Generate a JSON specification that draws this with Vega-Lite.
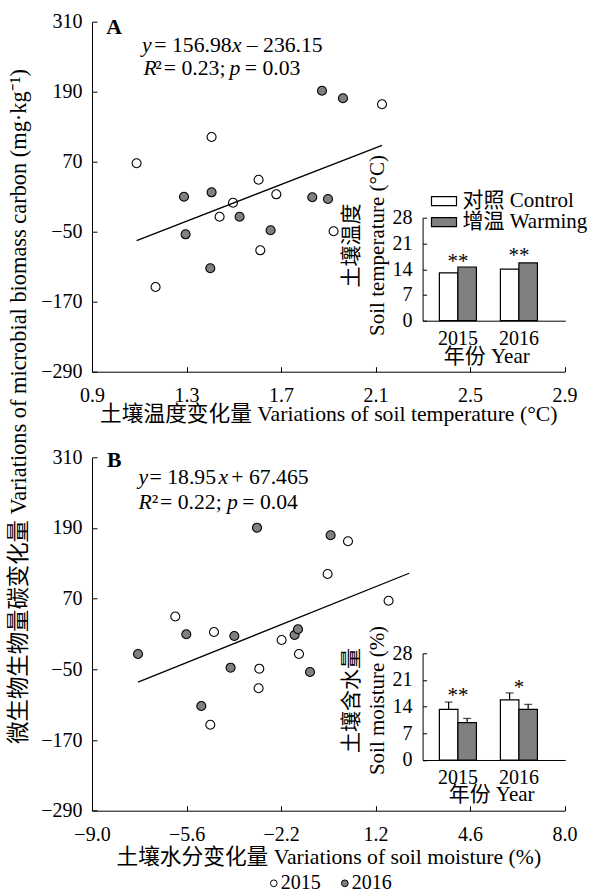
{
  "$schema": "https://vega.github.io/schema/vega-lite/v6.json",
  "padding": {"left": 7, "top": 11.7, "right": 5, "bottom": 5},
  "bounds": "flush",
  "spacing": 85.6,
  "config": {
    "font": "Liberation Serif, Noto Sans CJK SC",
    "view": {"stroke": null},
    "axis": {"grid": false, "domainColor": "black", "domainWidth": 1, "tickColor": "black", "tickWidth": 1, "labelColor": "black", "titleColor": "black", "labelFont": "Liberation Serif, Noto Sans CJK SC", "titleFont": "Liberation Serif, Noto Sans CJK SC", "labelFontSize": 20, "titleFontSize": 21, "titleFontWeight": "normal", "labelFlush": false, "labelOverlap": false},
    "legend": {"labelFont": "Liberation Serif, Noto Sans CJK SC", "labelFontSize": 21, "labelColor": "black", "symbolOpacity": 1},
    "text": {"font": "Liberation Serif, Noto Sans CJK SC", "color": "black"}
  },
  "resolve": {"scale": {"fill": "independent"}, "legend": {"fill": "independent"}},
  "datasets": {
    "scatterA": [
      {"x": 1.0887, "y": 67.3, "year": "2015"}, {"x": 1.4061, "y": 112.3, "year": "2015"}, {"x": 2.1273, "y": 168.4, "year": "2015"}, {"x": 1.605, "y": 39.1, "year": "2015"}, {"x": 1.68, "y": 14.1, "year": "2015"}, {"x": 1.4967, "y": -0.3, "year": "2015"}, {"x": 1.44, "y": -24.3, "year": "2015"}, {"x": 1.6122, "y": -81.9, "year": "2015"}, {"x": 1.169, "y": -144.8, "year": "2015"}, {"x": 1.9224, "y": -49.3, "year": "2015"},
      {"x": 1.8733, "y": 191.7, "year": "2016"}, {"x": 1.9622, "y": 178.7, "year": "2016"}, {"x": 1.2893, "y": 10, "year": "2016"}, {"x": 1.4061, "y": 17.5, "year": "2016"}, {"x": 1.5246, "y": -24.3, "year": "2016"}, {"x": 1.2961, "y": -54.5, "year": "2016"}, {"x": 1.6558, "y": -47.6, "year": "2016"}, {"x": 1.4006, "y": -112.7, "year": "2016"}, {"x": 1.8323, "y": 9, "year": "2016"}, {"x": 1.8987, "y": 6.1, "year": "2016"}
    ],
    "lineA": [{"x": 1.0887, "y": -65.3}, {"x": 2.1273, "y": 98}],
    "textA": [
      {"x": 0.9605, "y": 300.1, "t": "A", "s": "b"},
      {"x": 1.1116, "y": 270.1, "t": "y", "s": "i"},
      {"x": 1.1637, "y": 270.1, "t": "= 156.98", "s": "n"},
      {"x": 1.4925, "y": 270.1, "t": "x", "s": "i"},
      {"x": 1.5551, "y": 270.1, "t": "– 236.15", "s": "n"},
      {"x": 1.1184, "y": 229.8, "t": "R", "s": "i"},
      {"x": 1.1679, "y": 229.8, "t": "²", "s": "n"},
      {"x": 1.2039, "y": 229.8, "t": "= 0.23;", "s": "n"},
      {"x": 1.4823, "y": 229.8, "t": "p", "s": "i"},
      {"x": 1.5466, "y": 229.8, "t": "= 0.03", "s": "n"}
    ],
    "insetA": [
      {"year": "2015", "trt": "对照 Control", "val": 13.0},
      {"year": "2015", "trt": "增温 Warming", "val": 14.6},
      {"year": "2016", "trt": "对照 Control", "val": 14.0},
      {"year": "2016", "trt": "增温 Warming", "val": 15.7}
    ],
    "starsA": [{"year": "2015", "val": 14.4, "t": "**"}, {"year": "2016", "val": 15.9, "t": "**"}],
    "scatterB": [
      {"x": 0.2086, "y": 167.4, "year": "2015"}, {"x": -0.5252, "y": 111.9, "year": "2015"}, {"x": 1.669, "y": 66.5, "year": "2015"}, {"x": -6.0036, "y": 39.7, "year": "2015"}, {"x": -4.6115, "y": 13.4, "year": "2015"}, {"x": -2.1799, "y": -0.2, "year": "2015"}, {"x": -1.554, "y": -24, "year": "2015"}, {"x": -2.982, "y": -48.9, "year": "2015"}, {"x": -3.007, "y": -82.2, "year": "2015"}, {"x": -4.7446, "y": -144, "year": "2015"},
      {"x": -3.0647, "y": 190.5, "year": "2016"}, {"x": -0.417, "y": 177.6, "year": "2016"}, {"x": -5.608, "y": 9.5, "year": "2016"}, {"x": -3.881, "y": 6.6, "year": "2016"}, {"x": -7.345, "y": -24, "year": "2016"}, {"x": -1.712, "y": 8.3, "year": "2016"}, {"x": -1.59, "y": 18, "year": "2016"}, {"x": -4.0144, "y": -47.2, "year": "2016"}, {"x": -1.158, "y": -54.5, "year": "2016"}, {"x": -5.068, "y": -112.2, "year": "2016"}
    ],
    "lineB": [{"x": -7.345, "y": -71.7}, {"x": 2.41, "y": 113.1}],
    "textB": [
      {"x": -8.46, "y": 305.4, "t": "B", "s": "b"},
      {"x": -7.3237, "y": 277.1, "t": "y", "s": "i"},
      {"x": -6.928, "y": 277.1, "t": "= 18.95", "s": "n"},
      {"x": -4.446, "y": 277.1, "t": "x", "s": "i"},
      {"x": -3.989, "y": 277.1, "t": "+ 67.465", "s": "n"},
      {"x": -7.3237, "y": 234.6, "t": "R", "s": "i"},
      {"x": -6.849, "y": 234.6, "t": "²", "s": "n"},
      {"x": -6.55, "y": 234.6, "t": "= 0.22;", "s": "n"},
      {"x": -4.144, "y": 234.6, "t": "p", "s": "i"},
      {"x": -3.5935, "y": 234.6, "t": "= 0.04", "s": "n"}
    ],
    "insetB": [
      {"year": "2015", "trt": "对照 Control", "val": 13.3, "hi": 15.2},
      {"year": "2015", "trt": "增温 Warming", "val": 9.8, "hi": 10.9},
      {"year": "2016", "trt": "对照 Control", "val": 15.75, "hi": 17.6},
      {"year": "2016", "trt": "增温 Warming", "val": 13.3, "hi": 14.6}
    ],
    "starsB": [{"year": "2015", "val": 15.2, "t": "**"}, {"year": "2016", "val": 17.4, "t": "*"}]
  },
  "vconcat": [
    {
      "width": 472.6,
      "height": 350,
      "layer": [
        {
          "layer": [
            {
              "data": {"name": "scatterA"},
              "mark": {"type": "circle", "size": 81, "stroke": "black", "strokeWidth": 1.1, "opacity": 1},
              "encoding": {
                "x": {"field": "x", "type": "quantitative", "scale": {"domain": [0.9, 2.9], "zero": false, "nice": false},
                  "axis": {"orient": "bottom", "values": [0.9, 1.3, 1.7, 2.1, 2.5, 2.9], "format": ".1f", "tickSize": -5, "labelPadding": 19.3, "title": "土壤温度变化量 Variations of soil temperature (°C)", "titleFontSize": 21.7, "titleY": 42, "titleBaseline": "middle"}},
                "y": {"field": "y", "type": "quantitative", "scale": {"domain": [-290, 310], "zero": false, "nice": false},
                  "axis": {"orient": "left", "values": [-290, -170, -50, 70, 190, 310], "tickSize": -5, "labelPadding": 15, "title": "微生物生物量碳变化量 Variations of microbial biomass carbon (mg·kg⁻¹)", "titleFontSize": 22.4, "titleX": -73.7, "titleY": 384.3, "titleAngle": -90, "titleAlign": "center", "titleBaseline": "middle"}},
                "fill": {"field": "year", "type": "nominal", "scale": {"domain": ["2015", "2016"], "range": ["white", "#808080"]}, "legend": null}
              }
            },
            {
              "data": {"name": "lineA"},
              "mark": {"type": "line", "color": "black", "strokeWidth": 1.3},
              "encoding": {
                "x": {"field": "x", "type": "quantitative", "scale": {"domain": [0.9, 2.9], "zero": false, "nice": false}},
                "y": {"field": "y", "type": "quantitative", "scale": {"domain": [-290, 310], "zero": false, "nice": false}}
              }
            },
            {
              "data": {"name": "textA"},
              "transform": [{"filter": "datum.s === 'i'"}],
              "mark": {"type": "text", "align": "left", "baseline": "middle", "fontSize": 21.7, "fontStyle": "italic"},
              "encoding": {
                "x": {"field": "x", "type": "quantitative"},
                "y": {"field": "y", "type": "quantitative"},
                "text": {"field": "t"}
              }
            },
            {
              "data": {"name": "textA"},
              "transform": [{"filter": "datum.s === 'n'"}],
              "mark": {"type": "text", "align": "left", "baseline": "middle", "fontSize": 21.7},
              "encoding": {
                "x": {"field": "x", "type": "quantitative"},
                "y": {"field": "y", "type": "quantitative"},
                "text": {"field": "t"}
              }
            },
            {
              "data": {"name": "textA"},
              "transform": [{"filter": "datum.s === 'b'"}],
              "mark": {"type": "text", "align": "left", "baseline": "middle", "fontSize": 21.7, "fontWeight": "bold"},
              "encoding": {
                "x": {"field": "x", "type": "quantitative"},
                "y": {"field": "y", "type": "quantitative"},
                "text": {"field": "t"}
              }
            }
          ]
        },
        {
          "layer": [
            {
              "data": {"name": "insetA"},
              "mark": {"type": "bar", "stroke": "black", "strokeWidth": 1.2},
              "encoding": {
                "x": {"field": "year", "type": "nominal", "scale": {"range": [330.6, 473.3], "paddingInner": 0.393, "paddingOuter": 0.366, "align": 0.376},
                  "axis": {"orient": "bottom", "offset": -51, "ticks": false, "tickSize": 0, "labelAngle": 0, "labelPadding": 7.7, "title": "年份 Year", "titleX": 394.3, "titleY": 36, "titleBaseline": "middle"}},
                "xOffset": {"field": "trt", "type": "nominal", "scale": {"domain": ["对照 Control", "增温 Warming"], "paddingInner": 0, "paddingOuter": 0}},
                "y": {"field": "val", "type": "quantitative", "scale": {"domain": [0, 28], "range": [299, 196], "nice": false, "zero": true},
                  "axis": {"orient": "left", "offset": -330.6, "values": [0, 7, 14, 21, 28], "tickSize": -4, "labelPadding": 14.6, "title": ["土壤温度", "Soil temperature (°C)"], "titleX": -70.6, "titleY": 223.3, "titleAngle": -90, "titleAlign": "center", "titleBaseline": "middle", "titleLineHeight": 26}},
                "fill": {"field": "trt", "type": "nominal", "scale": {"domain": ["对照 Control", "增温 Warming"], "range": ["white", "#808080"]},
                  "legend": {"orient": "none", "legendX": 341.5, "legendY": 169, "title": null, "direction": "vertical", "padding": 0, "symbolType": "M-2.5,-0.9H2.5V0.9H-2.5Z", "symbolSize": 100, "symbolStrokeColor": "black", "symbolStrokeWidth": 1.2, "labelOffset": 8, "rowPadding": -1}}
              }
            },
            {
              "data": {"name": "starsA"},
              "mark": {"type": "text", "align": "center", "baseline": "alphabetic", "fontSize": 21},
              "encoding": {
                "x": {"field": "year", "type": "nominal"},
                "y": {"field": "val", "type": "quantitative"},
                "text": {"field": "t"}
              }
            }
          ]
        }
      ],
      "resolve": {"scale": {"x": "independent", "y": "independent", "fill": "independent"}, "axis": {"x": "independent", "y": "independent"}, "legend": {"fill": "independent"}}
    },
    {
      "width": 472.6,
      "height": 353.4,
      "layer": [
        {
          "layer": [
            {
              "data": {"name": "scatterB"},
              "mark": {"type": "circle", "size": 81, "stroke": "black", "strokeWidth": 1.1, "opacity": 1},
              "encoding": {
                "x": {"field": "x", "type": "quantitative", "scale": {"domain": [-9, 8], "zero": false, "nice": false},
                  "axis": {"orient": "bottom", "values": [-9, -5.6, -2.2, 1.2, 4.6, 8], "format": ".1f", "tickSize": -5, "labelPadding": 19.3, "title": "土壤水分变化量 Variations of soil moisture (%)", "titleFontSize": 21.7, "titleY": 46, "titleBaseline": "middle"}},
                "y": {"field": "y", "type": "quantitative", "scale": {"domain": [-290, 310], "zero": false, "nice": false},
                  "axis": {"orient": "left", "values": [-290, -170, -50, 70, 190, 310], "tickSize": -5, "labelPadding": 15, "title": null}},
                "fill": {"field": "year", "type": "nominal", "scale": {"domain": ["2015", "2016"], "range": ["white", "#808080"]},
                  "legend": {"orient": "none", "legendX": 171.8, "legendY": 416, "title": null, "direction": "horizontal", "padding": 0, "symbolType": "circle", "symbolSize": 45, "symbolStrokeColor": "black", "symbolStrokeWidth": 1, "labelOffset": -3, "columnPadding": 14, "labelFontSize": 20}}
              }
            },
            {
              "data": {"name": "lineB"},
              "mark": {"type": "line", "color": "black", "strokeWidth": 1.3},
              "encoding": {
                "x": {"field": "x", "type": "quantitative", "scale": {"domain": [-9, 8], "zero": false, "nice": false}},
                "y": {"field": "y", "type": "quantitative", "scale": {"domain": [-290, 310], "zero": false, "nice": false}}
              }
            },
            {
              "data": {"name": "textB"},
              "transform": [{"filter": "datum.s === 'i'"}],
              "mark": {"type": "text", "align": "left", "baseline": "middle", "fontSize": 21.7, "fontStyle": "italic"},
              "encoding": {
                "x": {"field": "x", "type": "quantitative"},
                "y": {"field": "y", "type": "quantitative"},
                "text": {"field": "t"}
              }
            },
            {
              "data": {"name": "textB"},
              "transform": [{"filter": "datum.s === 'n'"}],
              "mark": {"type": "text", "align": "left", "baseline": "middle", "fontSize": 21.7},
              "encoding": {
                "x": {"field": "x", "type": "quantitative"},
                "y": {"field": "y", "type": "quantitative"},
                "text": {"field": "t"}
              }
            },
            {
              "data": {"name": "textB"},
              "transform": [{"filter": "datum.s === 'b'"}],
              "mark": {"type": "text", "align": "left", "baseline": "middle", "fontSize": 21.7, "fontWeight": "bold"},
              "encoding": {
                "x": {"field": "x", "type": "quantitative"},
                "y": {"field": "y", "type": "quantitative"},
                "text": {"field": "t"}
              }
            }
          ]
        },
        {
          "layer": [
            {
              "data": {"name": "insetB"},
              "mark": {"type": "bar", "stroke": "black", "strokeWidth": 1.2},
              "encoding": {
                "x": {"field": "year", "type": "nominal", "scale": {"range": [330.6, 473.3], "paddingInner": 0.393, "paddingOuter": 0.366, "align": 0.376},
                  "axis": {"orient": "bottom", "offset": -50.7, "ticks": false, "tickSize": 0, "labelAngle": 0, "labelPadding": 7.7, "title": "年份 Year", "titleX": 399.1, "titleY": 35, "titleBaseline": "middle"}},
                "xOffset": {"field": "trt", "type": "nominal", "scale": {"domain": ["对照 Control", "增温 Warming"], "paddingInner": 0, "paddingOuter": 0}},
                "y": {"field": "val", "type": "quantitative", "scale": {"domain": [0, 28], "range": [302.7, 196], "nice": false, "zero": true},
                  "axis": {"orient": "left", "offset": -330.6, "values": [0, 7, 14, 21, 28], "tickSize": -4, "labelPadding": 14.6, "title": ["土壤含水量", "Soil moisture (%)"], "titleX": -71.3, "titleY": 242.7, "titleAngle": -90, "titleAlign": "center", "titleBaseline": "middle", "titleLineHeight": 26}},
                "fill": {"field": "trt", "type": "nominal", "scale": {"domain": ["对照 Control", "增温 Warming"], "range": ["white", "#808080"]}, "legend": null}
              }
            },
            {
              "data": {"name": "insetB"},
              "mark": {"type": "rule", "color": "black", "strokeWidth": 1.2},
              "encoding": {
                "x": {"field": "year", "type": "nominal"},
                "xOffset": {"field": "trt", "type": "nominal"},
                "y": {"field": "val", "type": "quantitative"},
                "y2": {"field": "hi"}
              }
            },
            {
              "data": {"name": "insetB"},
              "mark": {"type": "tick", "color": "black", "size": 8, "thickness": 1.2, "orient": "horizontal"},
              "encoding": {
                "x": {"field": "year", "type": "nominal"},
                "xOffset": {"field": "trt", "type": "nominal"},
                "y": {"field": "hi", "type": "quantitative"}
              }
            },
            {
              "data": {"name": "starsB"},
              "mark": {"type": "text", "align": "center", "baseline": "alphabetic", "fontSize": 21},
              "encoding": {
                "x": {"field": "year", "type": "nominal"},
                "y": {"field": "val", "type": "quantitative"},
                "text": {"field": "t"}
              }
            }
          ]
        }
      ],
      "resolve": {"scale": {"x": "independent", "y": "independent", "fill": "independent"}, "axis": {"x": "independent", "y": "independent"}, "legend": {"fill": "independent"}}
    }
  ]
}
